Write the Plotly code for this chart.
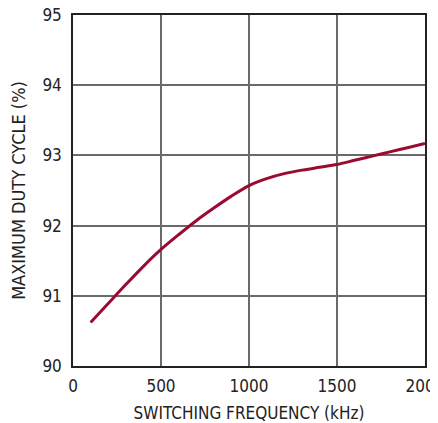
import plotly.graph_objects as go

freq_khz = [100, 200, 300, 400, 500, 600, 700, 800, 900, 1000,
            1100, 1200, 1300, 1400, 1500, 1600, 1700, 1800, 1900, 2000]
duty_pct = [90.62, 90.89, 91.16, 91.42, 91.66, 91.87, 92.07, 92.25, 92.42, 92.57,
            92.67, 92.74, 92.79, 92.83, 92.87, 92.93, 92.99, 93.05, 93.11, 93.17]

x_ticks = [0, 500, 1000, 1500, 2000]
y_ticks = [90, 91, 92, 93, 94, 95]

font_name = "DejaVu Sans Condensed, Liberation Sans Narrow, sans-serif"

fig = go.Figure(go.Scatter(
    x=freq_khz, y=duty_pct, mode="lines",
    line=dict(color="#9b0a30", width=3, shape="spline", smoothing=0.8),
))

# page body adds an 8px margin, so the figure is 8px smaller than the window
fig.update_layout(
    width=430, height=415,
    margin=dict(l=65, r=13, t=7, b=57),
    plot_bgcolor="white", paper_bgcolor="white",
    showlegend=False,
    font=dict(family=font_name, size=17, color="#222"),
)
fig.update_xaxes(
    range=[0, 2000], tickvals=x_ticks, ticks="", automargin=False,
    ticklabeloverflow="allow", ticklabelstandoff=4,
    showgrid=True, gridcolor="#6a6a6a", gridwidth=1.5,
    showline=True, linecolor="#222", linewidth=1.5, mirror=True,
    zeroline=False,
    title=dict(text="SWITCHING FREQUENCY (kHz)", font=dict(size=17), standoff=19),
)
fig.update_yaxes(
    range=[90, 95], tickvals=y_ticks, ticks="", automargin=False,
    ticklabeloverflow="allow", ticklabelstandoff=6,
    showgrid=True, gridcolor="#6a6a6a", gridwidth=1.5,
    showline=True, linecolor="#222", linewidth=1.5, mirror=True,
    zeroline=False,
    title=dict(text="MAXIMUM DUTY CYCLE (%)", font=dict(size=18), standoff=25),
)

fig.write_html("out.html")
